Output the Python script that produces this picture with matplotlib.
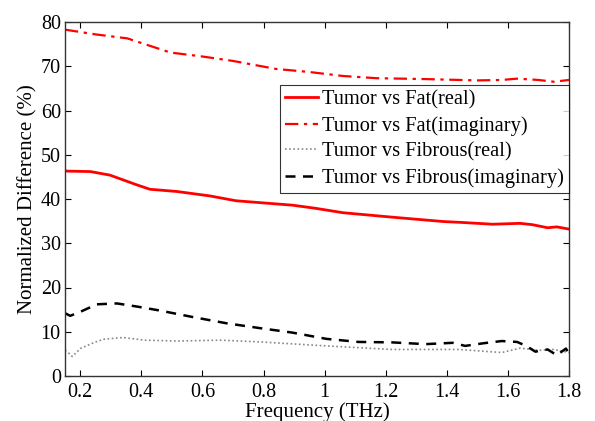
import matplotlib
matplotlib.use("Agg")
import matplotlib.pyplot as plt
import numpy as np

plt.rcParams['font.family'] = ['Liberation Serif', 'DejaVu Serif']
plt.rcParams['mathtext.fontset'] = 'stix'

# Tumor vs Fat (imaginary)
f_fat_im = [0.15, 0.157, 0.25, 0.354, 0.42, 0.495, 0.60, 0.70, 0.84, 0.95, 1.06, 1.17, 1.33, 1.50, 1.58, 1.63, 1.70, 1.75, 1.80]
v_fat_im = [78.3, 78.2, 77.2, 76.3, 74.8, 73.1, 72.2, 71.2, 69.4, 68.7, 67.8, 67.3, 67.1, 66.8, 66.9, 67.2, 66.9, 66.5, 66.9]

# Tumor vs Fat (real)
f_fat_re = [0.15, 0.157, 0.233, 0.297, 0.385, 0.428, 0.516, 0.624, 0.71, 0.895, 0.97, 1.06, 1.22, 1.39, 1.45, 1.55, 1.64, 1.68, 1.73, 1.76, 1.80]
v_fat_re = [46.4, 46.3, 46.2, 45.4, 43.2, 42.2, 41.7, 40.7, 39.6, 38.6, 37.9, 36.9, 35.9, 34.9, 34.7, 34.3, 34.5, 34.2, 33.5, 33.7, 33.2]

# Tumor vs Fibrous (real)
f_fib_re = [0.15, 0.157, 0.174, 0.20, 0.243, 0.275, 0.34, 0.41, 0.516, 0.66, 0.79, 1.005, 1.22, 1.44, 1.58, 1.64, 1.70, 1.75, 1.80]
v_fib_re = [5.8, 5.5, 4.4, 6.2, 7.5, 8.3, 8.7, 8.1, 7.9, 8.1, 7.7, 6.8, 6.0, 6.0, 5.3, 6.3, 5.8, 6.0, 5.3]

# Tumor vs Fibrous (imaginary)
f_fib_im = [0.15, 0.167, 0.20, 0.254, 0.32, 0.385, 0.46, 0.57, 0.68, 0.79, 0.895, 1.005, 1.11, 1.22, 1.33, 1.42, 1.46, 1.52, 1.58, 1.63, 1.66, 1.69, 1.73, 1.76, 1.79, 1.80]
v_fib_im = [14.2, 13.6, 14.5, 16.2, 16.4, 15.7, 14.8, 13.3, 11.9, 10.8, 9.8, 8.4, 7.7, 7.6, 7.2, 7.5, 6.8, 7.4, 7.9, 7.7, 6.8, 5.5, 6.0, 4.7, 6.2, 5.0]

labels = ["Tumor vs Fat(real)", "Tumor vs Fat(imaginary)",
          "Tumor vs Fibrous(real)", "Tumor vs Fibrous(imaginary)"]
x_ticks = [0.2, 0.4, 0.6, 0.8, 1, 1.2, 1.4, 1.6, 1.8]
x_tick_labels = ["0.2", "0.4", "0.6", "0.8", "1", "1.2", "1.4", "1.6", "1.8"]
y_ticks = [0, 10, 20, 30, 40, 50, 60, 70, 80]

fig = plt.figure(figsize=(5.95, 4.21), dpi=100)
ax = fig.add_axes([65/595, 1 - 376/421, (569-65)/595, (376-22)/421])

ax.plot(f_fat_re, v_fat_re, color='#ff0000', lw=2.0, ls='-', label=labels[0])
ax.plot(f_fat_im, v_fat_im, color='#ff0000', lw=1.6, ls=(0, (6, 2.5, 1.5, 2.5)), label=labels[1])
ax.plot(f_fib_re, v_fib_re, color='#888888', lw=1.2, ls=(0, (1, 1.5)), label=labels[2])
ax.plot(f_fib_im, v_fib_im, color='black', lw=1.8, ls=(0, (4, 3)), label=labels[3])

ax.set_xlim(0.15, 1.8)
ax.set_ylim(0, 80)
ax.set_xticks(x_ticks)
ax.set_xticklabels(x_tick_labels)
ax.set_yticks(y_ticks)
ax.tick_params(direction='in', top=True, right=True, labelsize=14.5, length=4, width=0.8)
ax.tick_params(axis='x', pad=5)
ax.tick_params(axis='y', pad=3)
for s in ax.spines.values():
    s.set_linewidth(1.0)
    s.set_color('#333333')

ax.set_xlabel("Frequency (THz)", fontsize=15, labelpad=0)
ax.set_ylabel("Normalized Difference (%)", fontsize=15, labelpad=2)

leg = ax.legend(loc='upper right', bbox_to_anchor=(1.0, 0.822), fontsize=14.7,
                frameon=True, fancybox=False, edgecolor='black', handlelength=1.6,
                handletextpad=0.2, borderpad=0.25, labelspacing=0.32, borderaxespad=0)
leg.get_frame().set_linewidth(0.8)

fig.savefig("out.png", dpi=100)
